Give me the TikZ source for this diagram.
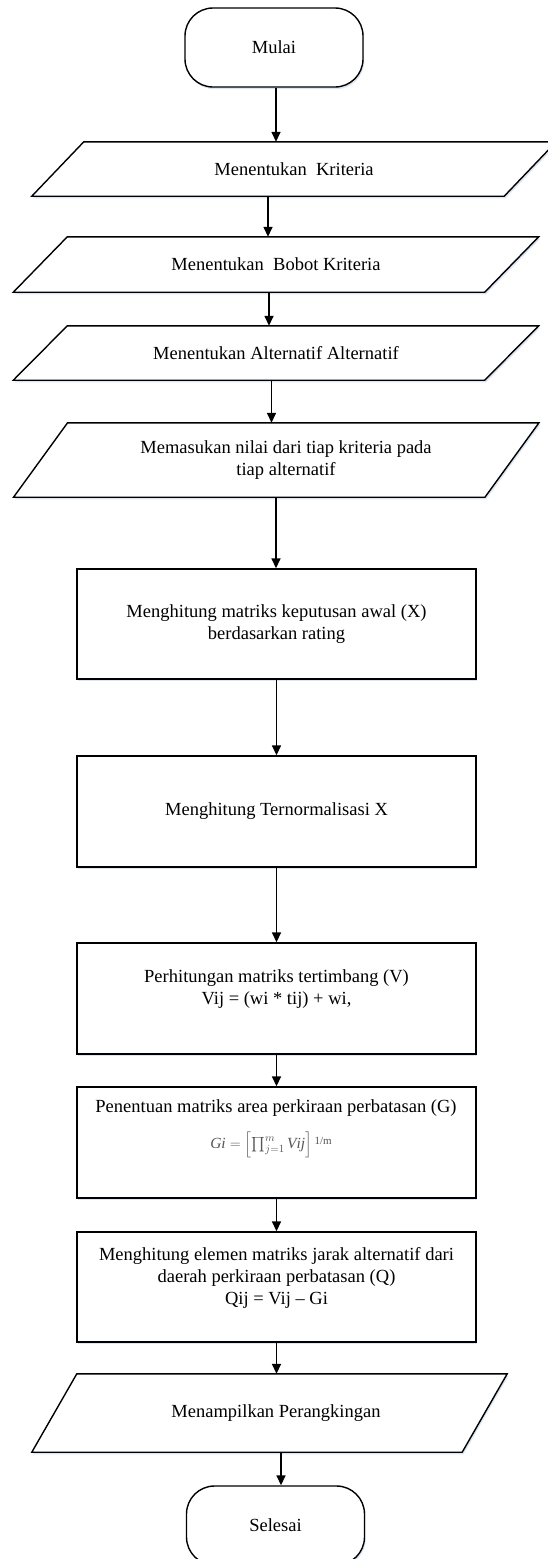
\documentclass[tikz,border=0pt]{standalone}
\usepackage{amsmath}
\usepackage{fontspec}
\setmainfont{Liberation Serif}
\usetikzlibrary{arrows.meta,shadows}

\definecolor{shade}{RGB}{220,230,243}
\definecolor{formulagray}{RGB}{85,85,85}

\tikzset{
  outline/.style={draw=black, line width=1.4pt, fill=white,
    general shadow={fill=shade, shadow xshift=1.2pt, shadow yshift=-2.2pt}},
  terminal/.style={outline, rounded corners=28pt, minimum width=178pt,
    minimum height=79pt, inner sep=0pt},
  procbox/.style={outline, minimum width=399pt, inner sep=0pt, align=center},
  slanthold/.style={inner sep=0pt, align=center},
  flow/.style={line width=1.5pt, -{Triangle[length=10pt,width=9pt]}},
}

% parallelogram drawn around a (borderless) holder node; #2 = half of the slant
\newcommand\slantshape[2]{%
  \path[outline]
    ([xshift=#2]#1.north west) -- ([xshift=#2]#1.north east) --
    ([xshift=-#2]#1.south east) -- ([xshift=-#2]#1.south west) -- cycle;}

\begin{document}
\begin{tikzpicture}[x=1pt, y=-1pt, font=\fontsize{18.5}{22}\selectfont]
\useasboundingbox (0,0) rectangle (547,1559);

% start
\node[terminal] (start) at (274,47.5) {Mulai};

% input steps (parallelograms)
\node[slanthold, minimum width=472pt, minimum height=54pt] (p1) at (294,169) {};
\slantshape{p1}{26pt}
\node (t1) at (p1) {Menentukan\ \ Kriteria};

\node[slanthold, minimum width=471pt, minimum height=55pt] (p2) at (276,264.5) {};
\slantshape{p2}{27pt}
\node (t2) at (p2) {Menentukan\ \ Bobot Kriteria};

\node[slanthold, minimum width=471pt, minimum height=54pt] (p3) at (276,353) {};
\slantshape{p3}{27pt}
\node (t3) at (p3) {Menentukan Alternatif Alternatif};

\node[slanthold, minimum width=471pt, minimum height=74pt] (p4) at (276.25,460) {};
\slantshape{p4}{27pt}
\node[align=center] (t4) at (286,460.5)
  {Memasukan nilai dari tiap kriteria pada\\tiap alternatif\hspace{18pt}};

% processing steps
\node[procbox, minimum height=110pt] (r1) at (276.5,624)
  {Menghitung matriks keputusan awal (X)\\berdasarkan rating};

\node[procbox, minimum height=111pt] (r2) at (276.5,811.5)
  {Menghitung Ternormalisasi X};

\node[procbox, minimum height=111pt] (r3) at (276.5,998.5)
  {Perhitungan matriks tertimbang (V)\\Vij = (wi * tij) + wi,\\\mbox{}};

\node[procbox, minimum height=111pt] (r4) at (276.5,1142.5) {};
\node[inner sep=1pt] (t5a) at (276,1108.5) {Penentuan matriks area perkiraan perbatasan (G)};
\node[text=formulagray, inner sep=0pt, font=\fontsize{15.5}{18}\selectfont] (t5b) at (271,1144.5)
  {$\mathit{Gi} = \left[\textstyle\prod_{j=1}^{m}\mathit{Vij}\right]$\,\raisebox{4pt}{\fontsize{11}{12}\selectfont 1/m}};

\node[procbox, minimum height=110pt] (r5) at (276.5,1287)
  {Menghitung elemen matriks jarak alternatif dari\\daerah perkiraan perbatasan (Q)\\Qij = Vij – Gi\\\mbox{}};

% output
\node[slanthold, minimum width=430pt, minimum height=78pt] (p5) at (269.5,1413) {};
\slantshape{p5}{22.5pt}
\node (t6) at (276,1413) {Menampilkan Perangkingan};

% end
\node[terminal] (stop) at (275.5,1525.5) {Selesai};

% connectors
\draw[flow] ([xshift=2pt]start.south) -- ([xshift=-18pt]p1.north);
\draw[flow] ([xshift=-26pt]p1.south) -- ([xshift=-8pt]p2.north);
\draw[flow] ([xshift=-7pt]p2.south) -- ([xshift=-7pt]p3.north);
\draw[flow] ([xshift=-4.5pt]p3.south) -- ([xshift=-4.75pt]p4.north);
\draw[flow] ([xshift=-0.25pt]p4.south) -- ([xshift=-0.5pt]r1.north);
\draw[flow] (r1.south) -- (r2.north);
\draw[flow] (r2.south) -- (r3.north);
\draw[flow] (r3.south) -- (r4.north);
\draw[flow] (r4.south) -- (r5.north);
\draw[flow] (r5.south) -- ([xshift=7pt]p5.north);
\draw[flow] ([xshift=11.5pt]p5.south) -- ([xshift=5.5pt]stop.north);
\end{tikzpicture}
\end{document}
